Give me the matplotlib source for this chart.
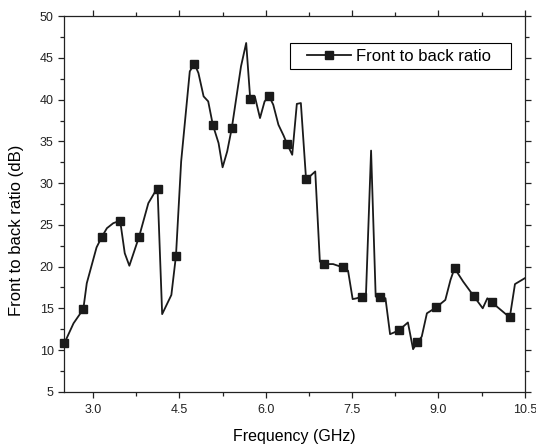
import numpy as np
import matplotlib
matplotlib.use("Agg")
import matplotlib.pyplot as plt
from matplotlib.lines import Line2D
from matplotlib.patches import Rectangle
from matplotlib.ticker import MultipleLocator

plt.rcParams['font.family'] = ['Liberation Sans', 'DejaVu Sans']

# кривая (все вершины линии)
freq = [2.50, 2.66, 2.83, 2.89, 3.06, 3.155, 3.24, 3.35, 3.47, 3.55, 3.63, 3.80,
        3.96, 4.08, 4.12, 4.20, 4.36, 4.44, 4.53, 4.68, 4.76, 4.83, 4.92, 5.00,
        5.08, 5.18, 5.25, 5.33, 5.41, 5.57, 5.66, 5.73, 5.81, 5.90, 5.98, 6.06,
        6.13, 6.22, 6.31, 6.37, 6.46, 6.54, 6.61, 6.70, 6.78, 6.86, 6.94, 7.02,
        7.17, 7.34, 7.43, 7.51, 7.58, 7.67, 7.74, 7.83, 7.91, 7.99, 8.08, 8.16,
        8.23, 8.32, 8.47, 8.56, 8.63, 8.71, 8.80, 8.96, 9.12, 9.21, 9.28, 9.43,
        9.61, 9.77, 9.85, 9.93, 10.24, 10.33, 10.50]
fbr = [10.8, 13.2, 14.9, 18.0, 22.3, 23.6, 24.6, 25.2, 25.5, 21.6, 20.1, 23.6,
       27.6, 29.0, 29.3, 14.3, 16.6, 21.3, 32.6, 43.4, 44.3, 43.2, 40.4, 39.8,
       37.0, 34.8, 31.9, 33.8, 36.6, 44.0, 46.8, 40.1, 40.4, 37.8, 39.8, 40.4,
       39.4, 37.0, 35.7, 34.7, 33.4, 39.5, 39.6, 30.5, 30.9, 31.4, 20.6, 20.3,
       20.3, 19.9, 19.5, 16.1, 16.2, 16.4, 16.4, 33.9, 16.4, 16.4, 16.2, 11.9,
       12.1, 12.4, 13.3, 10.1, 10.9, 11.6, 14.4, 15.1, 16.0, 18.4, 19.8, 18.2,
       16.5, 15.0, 16.2, 15.7, 13.9, 17.9, 18.6]

# точки с маркерами
freq_m = [2.50, 2.83, 3.155, 3.47, 3.80, 4.12, 4.44, 4.76, 5.08, 5.41, 5.73, 6.06,
          6.37, 6.70, 7.02, 7.34, 7.67, 7.99, 8.32, 8.63, 8.96, 9.28, 9.61, 9.93, 10.24]
fbr_m = [10.8, 14.9, 23.6, 25.5, 23.6, 29.3, 21.3, 44.3, 37.0, 36.6, 40.1, 40.4,
         34.7, 30.5, 20.3, 19.9, 16.4, 16.4, 12.4, 10.9, 15.1, 19.8, 16.5, 15.7, 13.9]

fig = plt.figure(figsize=(5.36, 4.46), dpi=100)
ax = fig.add_axes([0.12, 0.1217, 0.859, 0.8418])

col = '#1a1a1a'
ax.plot(freq, fbr, '-', color=col, lw=1.3)
ax.plot(freq_m, fbr_m, 's', color=col, ms=5.8, clip_on=False, zorder=3)

ax.set_xlim(2.5, 10.5)
ax.set_ylim(5, 50)
ax.xaxis.set_minor_locator(MultipleLocator(0.75))
ax.set_xticks(np.arange(3.0, 10.51, 1.5))
ax.yaxis.set_major_locator(MultipleLocator(5))
ax.yaxis.set_minor_locator(MultipleLocator(2.5))
ax.tick_params(which='both', direction='out', top=True, right=True,
               labeltop=False, labelright=False, width=0.9, labelsize=9,
               colors='#222222')
ax.tick_params(which='major', length=4.2, pad=3.5)
ax.tick_params(axis='x', which='major', pad=5)
ax.tick_params(which='minor', length=2.6)
for s in ax.spines.values():
    s.set_linewidth(0.9)
    s.set_color('#222222')

ax.set_xlabel('Frequency (GHz)', fontsize=11.5, labelpad=9)
ax.set_ylabel('Front to back ratio (dB)', fontsize=12)
ax.yaxis.set_label_coords(-0.088, 0.43)

# рамка легенды
ax.add_patch(Rectangle((0.490, 0.859), 0.480, 0.069, transform=ax.transAxes,
                       fill=True, facecolor='white', edgecolor='black',
                       lw=0.8, zorder=4))
h = Line2D([], [], color=col, lw=1.3, marker='s', ms=5.8)
leg = ax.legend([h], ['Front to back ratio'], loc='center left',
                bbox_to_anchor=(0.5265, 0.8935), borderaxespad=0, borderpad=0,
                fontsize=12, frameon=False, handlelength=2.64,
                handletextpad=0.32)
leg.set_zorder(5)

plt.savefig('out.png', dpi=100)
